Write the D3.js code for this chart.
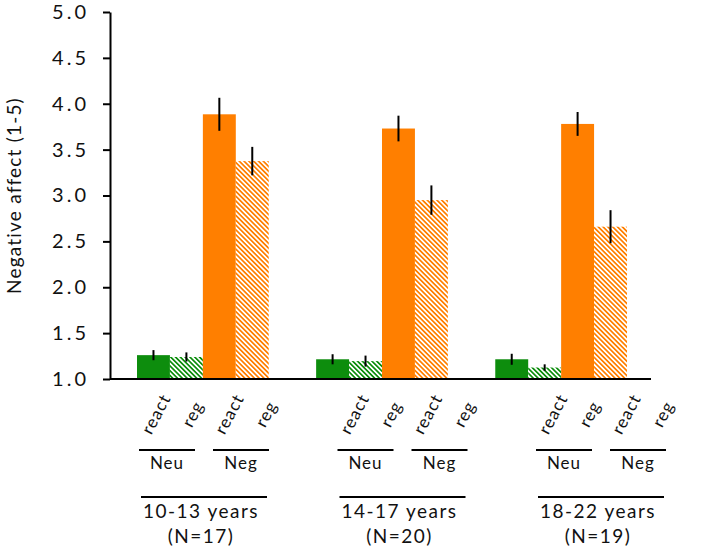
<!DOCTYPE html>
<html><head><meta charset="utf-8">
<script src="https://cdn.jsdelivr.net/npm/d3@7"></script>
<style>body{margin:0;background:#fff}svg{display:block}text{font-family:Lato,"Open Sans",sans-serif;fill:#111}</style>
</head><body><svg id="c" width="714" height="553"></svg>
<script>
const groups = ["10-13 years", "14-17 years", "18-22 years"];
const groupN = ["(N=17)", "(N=20)", "(N=19)"];
const conditions = ["Neu react", "Neu reg", "Neg react", "Neg reg"];
const barLabels = ["react", "reg", "react", "reg"];
const valenceLabels = ["Neu", "Neg"];
const means10to13 = [1.26, 1.24, 3.885, 3.375];
const means14to17 = [1.215, 1.195, 3.73, 2.95];
const means18to22 = [1.215, 1.125, 3.78, 2.66];
const err10to13 = [0.055, 0.05, 0.18, 0.155];
const err14to17 = [0.055, 0.06, 0.14, 0.16];
const err18to22 = [0.06, 0.035, 0.13, 0.18];
const yTicks = [1.0, 1.5, 2.0, 2.5, 3.0, 3.5, 4.0, 4.5, 5.0];
const yTitle = "Negative affect (1-5)";

const meansAll = [means10to13, means14to17, means18to22];
const errAll = [err10to13, err14to17, err18to22];
const data = [];
groups.forEach((g, gi) => conditions.forEach((c, ci) => data.push({g, c, ci, v: meansAll[gi][ci], e: errAll[gi][ci]})));

const svg = d3.select("#c");
const GREEN = "#0d8d0d", ORANGE = "#ff7f00";
const colorOf = ci => ci < 2 ? GREEN : ORANGE;

const defs = svg.append("defs");
[["hatchGreen", GREEN], ["hatchOrange", ORANGE]].forEach(([id, col]) => {
  const p = defs.append("pattern").attr("id", id).attr("patternUnits", "userSpaceOnUse")
    .attr("width", 3.4).attr("height", 3.4).attr("patternTransform", "rotate(-45)");
  p.append("rect").attr("width", 3.4).attr("height", 3.4).attr("fill", "#fff");
  p.append("rect").attr("x", 0).attr("width", 1.7).attr("height", 3.4).attr("fill", col);
});

const y = d3.scaleLinear().domain([1, 5]).range([379, 12]);
const xOuter = d3.scaleBand().domain(groups).range([137, 627]).paddingInner(0.2646).paddingOuter(0);
const xInner = d3.scaleBand().domain(conditions).range([0, xOuter.bandwidth()]).padding(0);

// bars
svg.append("g").selectAll("rect").data(data).join("rect")
  .attr("x", d => xOuter(d.g) + xInner(d.c))
  .attr("width", xInner.bandwidth())
  .attr("y", d => y(d.v))
  .attr("height", d => y(1) - y(d.v))
  .attr("fill", d => d.ci % 2 === 0 ? colorOf(d.ci) : (d.ci < 2 ? "url(#hatchGreen)" : "url(#hatchOrange)"));

// error bars
svg.append("g").selectAll("line").data(data).join("line")
  .attr("x1", d => xOuter(d.g) + xInner(d.c) + xInner.bandwidth() / 2)
  .attr("x2", d => xOuter(d.g) + xInner(d.c) + xInner.bandwidth() / 2)
  .attr("y1", d => y(d.v + d.e)).attr("y2", d => y(d.v - d.e))
  .attr("stroke", "#000").attr("stroke-width", 2);

// y axis
const yAxis = d3.axisLeft(y).tickValues(yTicks).tickFormat(d3.format(".1f")).tickSize(7).tickPadding(14).tickSizeOuter(0);
const ga = svg.append("g").attr("transform", "translate(110,0)").call(yAxis);
ga.select(".domain").attr("stroke", "#000").attr("stroke-width", 2);
ga.selectAll(".tick line").attr("stroke", "#000").attr("stroke-width", 2);
ga.selectAll(".tick text").style("font-size", "20px").style("font-family", "Lato")
  .style("letter-spacing", "3px").attr("fill", "#111");

// x axis line
const xLine = d3.scaleLinear().domain([0, 1]).range([110, 651]);
svg.append("line").attr("x1", xLine(0)).attr("x2", xLine(1)).attr("y1", y(1)).attr("y2", y(1))
  .attr("stroke", "#000").attr("stroke-width", 2);

// y title
svg.append("text").attr("transform", `translate(21,${(y(1) + y(5)) / 2}) rotate(-90)`)
  .attr("text-anchor", "middle").style("font-size", "19px").style("letter-spacing", "1.2px").text(yTitle);

// annotation layer below the axis
const lab = d3.scaleLinear().domain([0, 2]).range([139, 536]);
const barLabOff = d3.scaleLinear().domain([0, 3]).range([17, 127]);
groups.forEach((g, gi) => {
  const x0 = lab(gi);
  barLabels.forEach((t, i) => {
    svg.append("text").attr("transform", `translate(${x0 + barLabOff(i)},${414}) rotate(-62)`)
      .attr("text-anchor", "middle").attr("dy", "0.35em").style("font-size", "17px")
      .style("letter-spacing", "1px").text(t);
  });
  valenceLabels.forEach((t, i) => {
    const s = x0 + i * 74;
    svg.append("line").attr("x1", s).attr("x2", s + 56).attr("y1", 450).attr("y2", 450)
      .attr("stroke", "#000").attr("stroke-width", 2);
    svg.append("text").attr("x", s + 28).attr("y", 469).attr("text-anchor", "middle")
      .style("font-size", "17px").style("letter-spacing", "1px").text(t);
  });
  svg.append("line").attr("x1", x0 + 2).attr("x2", x0 + 128).attr("y1", 497).attr("y2", 497)
    .attr("stroke", "#000").attr("stroke-width", 2);
  svg.append("text").attr("x", x0 + 62).attr("y", 518).attr("text-anchor", "middle")
    .style("font-size", "19px").style("letter-spacing", "1.5px").text(g);
  svg.append("text").attr("x", x0 + 62).attr("y", 543).attr("text-anchor", "middle")
    .style("font-size", "19px").style("letter-spacing", "1.5px").text(groupN[gi]);
});
</script></body></html>
